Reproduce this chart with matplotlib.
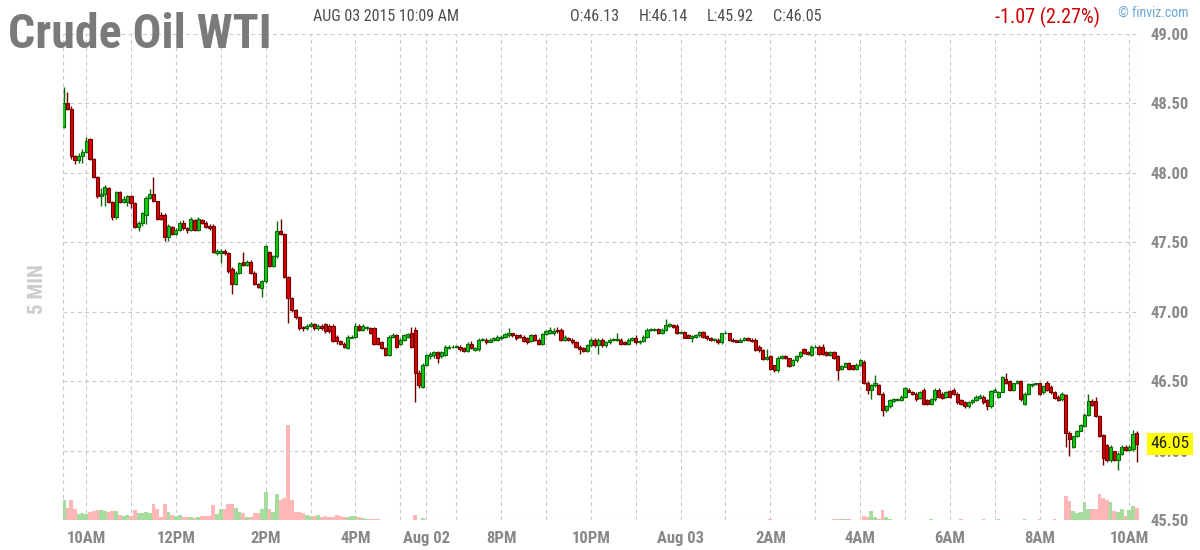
#Crude Oil WTI - 5 min candlestick chart (finviz style)
import numpy as np
import matplotlib
matplotlib.use('Agg')
import matplotlib.pyplot as plt

plt.rcParams['font.family'] = ['Roboto Condensed', 'DejaVu Sans']

#candle data, one entry per 5 min bar (Fri 9:30 AM -> Mon 10:05 AM)
opens = [
    48.33, 48.50, 48.46, 48.12, 48.09, 48.12, 48.15, 48.24, 48.10, 47.97,
    47.83, 47.85, 47.89, 47.79, 47.68, 47.86, 47.79, 47.79, 47.83, 47.78,
    47.61, 47.64, 47.70, 47.82, 47.85, 47.80, 47.70, 47.70, 47.54, 47.61,
    47.56, 47.59, 47.64, 47.60, 47.59, 47.66, 47.59, 47.66, 47.64, 47.62,
    47.62, 47.42, 47.42, 47.44, 47.42, 47.31, 47.20, 47.28, 47.36, 47.34,
    47.36, 47.28, 47.20, 47.17, 47.22, 47.43, 47.33, 47.40, 47.58, 47.56,
    47.25, 47.10, 47.01, 46.96, 46.89, 46.88, 46.90, 46.91, 46.88, 46.90,
    46.91, 46.90, 46.90, 46.82, 46.79, 46.77, 46.74, 46.815, 46.82, 46.90,
    46.87, 46.88, 46.88, 46.88, 46.81, 46.78, 46.74, 46.69, 46.82, 46.83,
    46.77, 46.80, 46.82, 46.85, 46.87, 46.56, 46.46, 46.62, 46.68, 46.69,
    46.71, 46.68, 46.69, 46.74, 46.745, 46.75, 46.75, 46.74, 46.72, 46.77,
    46.725, 46.73, 46.80, 46.80, 46.785, 46.80, 46.80, 46.81, 46.82, 46.83,
    46.845, 46.83, 46.83, 46.82, 46.81, 46.79, 46.83, 46.80, 46.77, 46.84,
    46.85, 46.845, 46.87, 46.87, 46.80, 46.81, 46.80, 46.785, 46.75, 46.74,
    46.72, 46.76, 46.80, 46.76, 46.80, 46.76, 46.78, 46.80, 46.80, 46.80,
    46.785, 46.77, 46.80, 46.815, 46.78, 46.79, 46.82, 46.87, 46.87, 46.875,
    46.85, 46.87, 46.90, 46.905, 46.90, 46.845, 46.855, 46.83, 46.81, 46.82,
    46.83, 46.855, 46.825, 46.81, 46.80, 46.80, 46.78, 46.845, 46.845, 46.80,
    46.795, 46.785, 46.80, 46.81, 46.80, 46.80, 46.75, 46.725, 46.66, 46.68,
    46.615, 46.58, 46.67, 46.68, 46.665, 46.615, 46.65, 46.68, 46.73, 46.71,
    46.69, 46.745, 46.75, 46.75, 46.71, 46.69, 46.71, 46.68, 46.585, 46.605,
    46.63, 46.615, 46.59, 46.62, 46.64, 46.49, 46.44, 46.47, 46.475, 46.41,
    46.29, 46.32, 46.355, 46.365, 46.365, 46.39, 46.44, 46.425, 46.41, 46.38,
    46.44, 46.365, 46.335, 46.37, 46.44, 46.41, 46.39, 46.43, 46.44, 46.41,
    46.365, 46.35, 46.32, 46.35, 46.365, 46.38, 46.39, 46.365, 46.32, 46.425,
    46.39, 46.425, 46.52, 46.50, 46.44, 46.485, 46.50, 46.34, 46.41, 46.47,
    46.48, 46.485, 46.425, 46.485, 46.46, 46.42, 46.39, 46.37, 46.40, 46.13,
    46.03, 46.105, 46.145, 46.18, 46.26, 46.36, 46.36, 46.25, 46.115, 46.04,
    45.935, 45.995, 45.935, 45.98, 46.03, 46.005, 46.01, 46.13]
highs = [
    48.62, 48.58, 48.48, 48.13, 48.14, 48.17, 48.26, 48.25, 48.11, 47.98,
    47.89, 47.91, 47.90, 47.80, 47.87, 47.87, 47.83, 47.84, 47.84, 47.79,
    47.65, 47.72, 47.83, 47.88, 47.97, 47.80, 47.72, 47.71, 47.63, 47.62,
    47.60, 47.65, 47.66, 47.61, 47.68, 47.67, 47.68, 47.67, 47.65, 47.63,
    47.63, 47.45, 47.45, 47.45, 47.43, 47.32, 47.29, 47.36, 47.43, 47.37,
    47.37, 47.29, 47.21, 47.23, 47.48, 47.44, 47.41, 47.65, 47.67, 47.57,
    47.26, 47.11, 47.02, 46.97, 46.90, 46.91, 46.93, 46.92, 46.91, 46.91,
    46.92, 46.91, 46.91, 46.83, 46.80, 46.78, 46.83, 46.83, 46.92, 46.91,
    46.91, 46.90, 46.89, 46.89, 46.82, 46.79, 46.75, 46.83, 46.85, 46.84,
    46.81, 46.84, 46.85, 46.89, 46.89, 46.58, 46.63, 46.70, 46.71, 46.72,
    46.72, 46.72, 46.76, 46.76, 46.76, 46.76, 46.76, 46.75, 46.78, 46.79,
    46.75, 46.81, 46.81, 46.81, 46.81, 46.82, 46.83, 46.83, 46.85, 46.88,
    46.85, 46.84, 46.84, 46.83, 46.82, 46.84, 46.84, 46.81, 46.85, 46.87,
    46.89, 46.88, 46.89, 46.88, 46.83, 46.82, 46.81, 46.79, 46.76, 46.75,
    46.77, 46.81, 46.81, 46.81, 46.81, 46.79, 46.81, 46.81, 46.85, 46.81,
    46.79, 46.81, 46.82, 46.83, 46.80, 46.83, 46.88, 46.88, 46.88, 46.88,
    46.88, 46.945, 46.92, 46.91, 46.91, 46.86, 46.86, 46.84, 46.83, 46.84,
    46.86, 46.86, 46.83, 46.82, 46.81, 46.81, 46.85, 46.86, 46.85, 46.81,
    46.80, 46.81, 46.82, 46.82, 46.81, 46.81, 46.76, 46.73, 46.73, 46.69,
    46.62, 46.68, 46.69, 46.69, 46.67, 46.66, 46.69, 46.72, 46.74, 46.72,
    46.76, 46.76, 46.76, 46.77, 46.72, 46.72, 46.72, 46.69, 46.62, 46.64,
    46.64, 46.62, 46.63, 46.66, 46.65, 46.50, 46.48, 46.545, 46.48, 46.42,
    46.33, 46.37, 46.38, 46.38, 46.40, 46.46, 46.45, 46.43, 46.42, 46.43,
    46.45, 46.37, 46.38, 46.45, 46.45, 46.42, 46.43, 46.44, 46.45, 46.42,
    46.37, 46.36, 46.36, 46.37, 46.40, 46.41, 46.40, 46.37, 46.44, 46.45,
    46.43, 46.54, 46.56, 46.51, 46.49, 46.51, 46.51, 46.42, 46.49, 46.49,
    46.49, 46.49, 46.47, 46.50, 46.47, 46.43, 46.40, 46.42, 46.41, 46.14,
    46.11, 46.15, 46.19, 46.27, 46.41, 46.37, 46.39, 46.26, 46.12, 46.05,
    46.04, 46.00, 45.99, 46.04, 46.04, 46.04, 46.15, 46.14]
lows = [
    48.32, 48.45, 48.10, 48.06, 48.07, 48.07, 48.14, 48.09, 47.96, 47.82,
    47.76, 47.76, 47.78, 47.66, 47.67, 47.78, 47.78, 47.76, 47.75, 47.60,
    47.58, 47.62, 47.63, 47.81, 47.79, 47.66, 47.66, 47.51, 47.51, 47.55,
    47.55, 47.58, 47.59, 47.57, 47.58, 47.58, 47.58, 47.63, 47.60, 47.59,
    47.42, 47.41, 47.35, 47.41, 47.28, 47.13, 47.19, 47.27, 47.33, 47.33,
    47.27, 47.19, 47.17, 47.11, 47.21, 47.32, 47.32, 47.39, 47.55, 47.24,
    46.92, 47.00, 46.95, 46.87, 46.86, 46.87, 46.89, 46.87, 46.87, 46.87,
    46.85, 46.85, 46.78, 46.77, 46.76, 46.74, 46.73, 46.81, 46.81, 46.86,
    46.86, 46.87, 46.84, 46.76, 46.76, 46.73, 46.68, 46.68, 46.81, 46.74,
    46.76, 46.79, 46.81, 46.74, 46.35, 46.45, 46.45, 46.61, 46.66, 46.67,
    46.63, 46.67, 46.68, 46.73, 46.74, 46.74, 46.72, 46.71, 46.71, 46.73,
    46.72, 46.72, 46.79, 46.77, 46.78, 46.79, 46.79, 46.80, 46.81, 46.82,
    46.82, 46.80, 46.81, 46.78, 46.77, 46.78, 46.79, 46.76, 46.76, 46.83,
    46.84, 46.83, 46.85, 46.79, 46.79, 46.79, 46.77, 46.74, 46.70, 46.71,
    46.71, 46.75, 46.75, 46.70, 46.75, 46.75, 46.77, 46.79, 46.79, 46.76,
    46.76, 46.76, 46.79, 46.77, 46.77, 46.78, 46.81, 46.86, 46.86, 46.84,
    46.84, 46.86, 46.89, 46.88, 46.84, 46.84, 46.81, 46.81, 46.78, 46.81,
    46.82, 46.81, 46.80, 46.79, 46.79, 46.77, 46.77, 46.84, 46.79, 46.78,
    46.78, 46.78, 46.79, 46.79, 46.78, 46.72, 46.71, 46.65, 46.65, 46.58,
    46.57, 46.57, 46.66, 46.66, 46.60, 46.61, 46.64, 46.67, 46.70, 46.69,
    46.68, 46.74, 46.69, 46.69, 46.68, 46.68, 46.66, 46.51, 46.58, 46.60,
    46.58, 46.58, 46.58, 46.61, 46.48, 46.41, 46.37, 46.46, 46.40, 46.25,
    46.28, 46.31, 46.35, 46.36, 46.36, 46.38, 46.42, 46.40, 46.36, 46.37,
    46.33, 46.33, 46.33, 46.36, 46.38, 46.37, 46.38, 46.38, 46.40, 46.34,
    46.33, 46.31, 46.31, 46.34, 46.36, 46.37, 46.34, 46.29, 46.31, 46.42,
    46.38, 46.42, 46.48, 46.43, 46.43, 46.48, 46.36, 46.33, 46.40, 46.46,
    46.47, 46.40, 46.41, 46.43, 46.41, 46.37, 46.36, 46.36, 46.03, 45.96,
    46.02, 46.10, 46.14, 46.17, 46.25, 46.32, 46.24, 46.10, 45.90, 45.92,
    45.92, 45.93, 45.86, 45.97, 46.00, 46.00, 46.00, 45.92]
closes = [
    48.50, 48.46, 48.12, 48.09, 48.12, 48.15, 48.23, 48.10, 47.97, 47.83,
    47.85, 47.90, 47.79, 47.68, 47.86, 47.79, 47.81, 47.83, 47.78, 47.61,
    47.64, 47.71, 47.82, 47.85, 47.80, 47.67, 47.67, 47.54, 47.62, 47.56,
    47.59, 47.64, 47.60, 47.59, 47.67, 47.59, 47.67, 47.64, 47.61, 47.60,
    47.43, 47.44, 47.44, 47.42, 47.29, 47.20, 47.28, 47.35, 47.34, 47.36,
    47.28, 47.20, 47.18, 47.22, 47.47, 47.33, 47.40, 47.58, 47.56, 47.25,
    47.10, 47.01, 46.96, 46.88, 46.88, 46.90, 46.91, 46.88, 46.90, 46.88,
    46.86, 46.86, 46.79, 46.79, 46.77, 46.75, 46.82, 46.82, 46.90, 46.87,
    46.90, 46.89, 46.85, 46.77, 46.77, 46.74, 46.69, 46.82, 46.83, 46.75,
    46.80, 46.83, 46.84, 46.75, 46.56, 46.47, 46.62, 46.69, 46.70, 46.71,
    46.67, 46.71, 46.75, 46.75, 46.75, 46.755, 46.73, 46.72, 46.77, 46.74,
    46.74, 46.80, 46.80, 46.785, 46.80, 46.81, 46.82, 46.82, 46.84, 46.85,
    46.83, 46.81, 46.82, 46.79, 46.785, 46.83, 46.80, 46.77, 46.84, 46.86,
    46.87, 46.86, 46.86, 46.80, 46.82, 46.80, 46.78, 46.745, 46.73, 46.72,
    46.76, 46.80, 46.76, 46.80, 46.76, 46.785, 46.80, 46.805, 46.805, 46.77,
    46.77, 46.80, 46.81, 46.78, 46.79, 46.82, 46.87, 46.875, 46.875, 46.85,
    46.87, 46.905, 46.91, 46.89, 46.845, 46.855, 46.815, 46.815, 46.825, 46.83,
    46.855, 46.82, 46.81, 46.80, 46.80, 46.78, 46.845, 46.85, 46.80, 46.79,
    46.785, 46.80, 46.81, 46.80, 46.79, 46.725, 46.725, 46.66, 46.675, 46.59,
    46.58, 46.67, 46.68, 46.665, 46.61, 46.65, 46.68, 46.71, 46.705, 46.70,
    46.75, 46.75, 46.70, 46.70, 46.69, 46.71, 46.665, 46.58, 46.61, 46.63,
    46.59, 46.59, 46.62, 46.65, 46.49, 46.44, 46.47, 46.485, 46.41, 46.29,
    46.32, 46.365, 46.37, 46.37, 46.39, 46.455, 46.425, 46.41, 46.37, 46.42,
    46.34, 46.335, 46.37, 46.44, 46.39, 46.38, 46.425, 46.39, 46.41, 46.35,
    46.34, 46.32, 46.35, 46.365, 46.39, 46.395, 46.35, 46.32, 46.43, 46.44,
    46.425, 46.53, 46.49, 46.44, 46.485, 46.505, 46.37, 46.41, 46.48, 46.48,
    46.485, 46.41, 46.465, 46.44, 46.42, 46.38, 46.365, 46.41, 46.125, 46.085,
    46.105, 46.145, 46.185, 46.26, 46.36, 46.33, 46.25, 46.11, 45.95, 45.935,
    46.03, 45.935, 45.98, 46.03, 46.005, 46.03, 46.12, 46.05]
volume = [
    20, 12, 20, 11, 6, 7, 6, 8, 9, 10,
    10, 9, 8, 9, 9, 5, 4, 5, 4, 10,
    7, 7, 8, 7, 16, 11, 3, 16, 8, 5,
    4, 5, 3, 3, 3, 2, 3, 4, 4, 4,
    15, 6, 11, 11, 16, 16, 12, 8, 7, 3,
    3, 7, 7, 11, 28, 11, 8, 26, 20, 22,
    95, 20, 8, 8, 7, 5, 4, 4, 5, 3,
    4, 3, 3, 5, 4, 3, 3, 4, 4, 3,
    2, 1, 1, 1, 1, 0, 0, 0, 0, 0,
    0, 0, 0, 0, 5, 0, 2, 0, 0, 0,
    0, 0, 0, 0, 0, 0, 0, 0, 0, 0,
    0, 0, 0, 0, 0, 0, 0, 0, 0, 0,
    0, 0, 0, 0, 0, 0, 0, 0, 0, 0,
    0, 0, 0, 0, 0, 0, 0, 0, 0, 0,
    0, 0, 0, 0, 0, 0, 0, 0, 0, 0,
    0, 0, 0, 0, 0, 0, 0, 0, 0, 0,
    0, 0, 0, 0, 0, 0, 0, 0, 0, 0,
    0, 0, 0, 0, 0, 0, 0, 0, 0, 0,
    0, 0, 0, 0, 0, 0, 0, 0, 0, 1,
    0, 0, 0, 0, 0, 0, 0, 0, 0, 0,
    0, 0, 0, 0, 0, 0, 1, 1, 1, 1,
    1, 0, 0, 0, 4, 3, 9, 3, 1, 10,
    3, 1, 0, 0, 0, 0, 0, 0, 0, 0,
    0, 0, 1, 0, 0, 0, 0, 0, 0, 0,
    1, 0, 0, 0, 0, 0, 1, 0, 0, 0,
    1, 0, 0, 0, 0, 0, 0, 1, 0, 0,
    0, 1, 0, 0, 0, 1, 0, 0, 24, 19,
    9, 7, 8, 18, 11, 11, 11, 26, 22, 20,
    18, 9, 8, 11, 4, 10, 14, 12]

#x axis: hourly grid (bar index) and 2-hourly labels
grid_idx = [6, 18, 30, 42, 54, 66, 78, 90, 97, 105, 117, 129, 141, 153, 165,
            177, 189, 201, 213, 225, 237, 249, 261, 273, 285]
tick_idx = [6, 30, 54, 78, 97, 117, 141, 165, 189, 213, 237, 261, 285]
tick_lbl = ['10AM', '12PM', '2PM', '4PM', 'Aug 02', '8PM', '10PM', 'Aug 03',
            '2AM', '4AM', '6AM', '8AM', '10AM']
price_ticks = [45.5, 46.0, 46.5, 47.0, 47.5, 48.0, 48.5, 49.0]

o = np.array(opens); h = np.array(highs); l = np.array(lows); c = np.array(closes)
v = np.array(volume)
n = np.arange(len(c))
up = c >= o

fig = plt.figure(figsize=(12, 5.5), dpi=100)
ax = fig.add_axes([63/1200, 29.7/550, 1076/1200, 486.5/550])
axv = ax.twinx()
ax.set_zorder(axv.get_zorder() + 1)
ax.patch.set_visible(False)

#volume bars (behind)
axv.bar(n, v, width=1.0, color=np.where(up, '#a6dc9e', '#ffb6b6'), linewidth=0)
axv.set_ylim(0, 486.5)
axv.axis('off')

#grid
ax.set_xlim(-0.2, 287.6)
ax.set_ylim(45.5, 49.0)
gs = dict(color='#c9c9c9', lw=0.8, ls=(0, (3.5, 3.0)), zorder=0)
for p in price_ticks:
    ax.axhline(p, **gs)
for g in grid_idx + list(ax.get_xlim()):
    axv.axvline(g, **gs)

#candles
edge = np.where(up, '#0a6a0a', '#6e0000')
body = np.where(up, '#11cc11', '#dd0000')
ax.vlines(n, l, h, colors=edge, lw=1.0, zorder=2)
ax.bar(n, np.maximum(np.abs(c - o), 0.004), bottom=np.minimum(o, c), width=0.85,
       color=body, edgecolor=edge, linewidth=0.8, zorder=3)

for s in ax.spines.values():
    s.set_visible(False)
ax.set_xticks(tick_idx, tick_lbl)
ax.set_yticks(price_ticks, ['%.2f' % p for p in price_ticks])
ax.yaxis.tick_right()
ax.tick_params(axis='x', length=0, pad=8, labelsize=12, labelcolor='#888888')
ax.tick_params(axis='y', length=0, pad=8, labelsize=12, labelcolor='#8a8a8a')
for t in ax.get_xticklabels() + ax.get_yticklabels():
    t.set_fontweight('bold')

#last price box
ax.text(1.011, c[-1], '%.2f' % c[-1], transform=ax.get_yaxis_transform(),
        va='center', ha='left', fontsize=12.5, color='#222222', zorder=10,
        bbox=dict(boxstyle='square,pad=0.2', fc='#ffff00', ec='none'))

#header texts
fig.text(8/1200, 1-48/550, 'Crude Oil WTI', fontsize=34.5, fontweight='bold',
         color='#7a7a7a', va='baseline')
fig.text(313/1200, 1-21/550, 'AUG 03 2015 10:09 AM', fontsize=11.5, color='#4d4d4d', va='baseline')
fig.text(570/1200, 1-21/550, 'O:%.2f' % o[-1], fontsize=11.5, color='#4d4d4d', va='baseline')
fig.text(639/1200, 1-21/550, 'H:%.2f' % h[-1], fontsize=11.5, color='#4d4d4d', va='baseline')
fig.text(707/1200, 1-21/550, 'L:%.2f' % l[-1], fontsize=11.5, color='#4d4d4d', va='baseline')
fig.text(773/1200, 1-21/550, 'C:%.2f' % c[-1], fontsize=11.5, color='#4d4d4d', va='baseline')
fig.text(995/1200, 1-23/550, '-1.07 (2.27%)', fontsize=14.5, color='#cc0000', va='baseline')
fig.text(1118/1200, 1-17/550, '© finviz.com', fontsize=10, color='#6fa6d6', va='baseline')
fig.text(37.5/1200, 1-289/550, '5 MIN', rotation=90, ha='center', va='center',
         fontsize=15, fontweight='bold', color='#cccccc')

fig.savefig('out.png', dpi=100)
